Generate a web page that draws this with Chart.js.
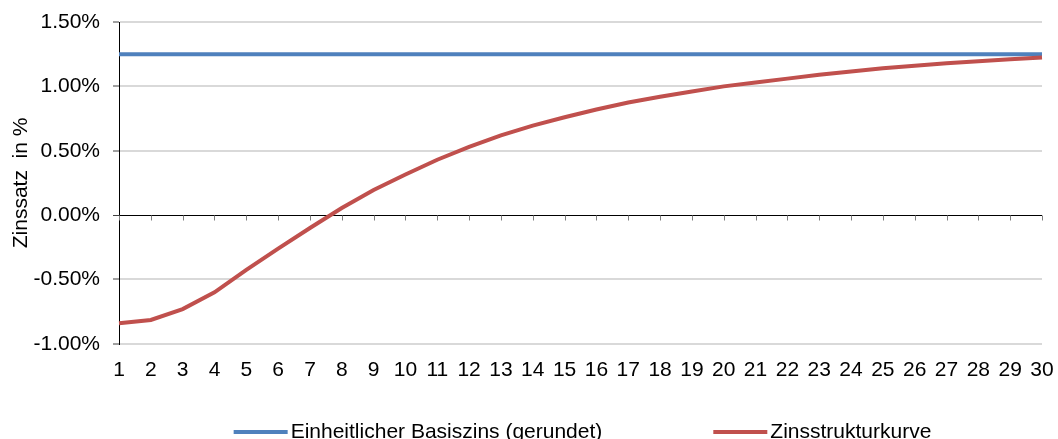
<!DOCTYPE html>
<html lang="de">
<head>
<meta charset="utf-8">
<title>Zinsstrukturkurve</title>
<script src="https://cdn.jsdelivr.net/npm/chart.js@4/dist/chart.umd.min.js"></script>
<style>
  html, body { margin: 0; padding: 0; background: #ffffff; }
  #wrap { width: 1058px; height: 439px; position: relative; }
</style>
</head>
<body>
<div id="wrap"><canvas id="chart"></canvas></div>
<script>
// Laufzeit in Jahren
const years = ['1','2','3','4','5','6','7','8','9','10','11','12','13','14','15',
               '16','17','18','19','20','21','22','23','24','25','26','27','28','29','30'];

// Einheitlicher Basiszins (gerundet), in %
const basisZins = [1.25,1.25,1.25,1.25,1.25,1.25,1.25,1.25,1.25,1.25,
                   1.25,1.25,1.25,1.25,1.25,1.25,1.25,1.25,1.25,1.25,
                   1.25,1.25,1.25,1.25,1.25,1.25,1.25,1.25,1.25,1.25];

// Zinsstrukturkurve, in %
const zinsStruktur = [-0.84,-0.815,-0.73,-0.60,-0.425,-0.26,-0.10,0.055,0.195,0.315,
                      0.43,0.53,0.62,0.695,0.76,0.82,0.875,0.92,0.96,1.00,
                      1.03,1.06,1.09,1.115,1.14,1.16,1.18,1.195,1.21,1.225];

// Werteachse
const yMin = -1.0;
const yMax = 1.5;
const yStep = 0.5;

const seriesNames = ['Einheitlicher Basiszins (gerundet)', 'Zinsstrukturkurve'];
const seriesColors = ['#4F81BD', '#C0504D'];

const FONT_FAMILY = '"Liberation Sans", Arial, Helvetica, sans-serif';
const FONT_SIZE = 21;

// Small tick marks hanging below the zero line, one per category
const zeroLineTicks = {
  id: 'zeroLineTicks',
  beforeDatasetsDraw(chart) {
    const { ctx, scales: { x, y } } = chart;
    const y0 = Math.round(y.getPixelForValue(0)) + 0.5;
    ctx.save();
    ctx.strokeStyle = '#7f7f7f';
    ctx.lineWidth = 1;
    ctx.beginPath();
    years.forEach((_, i) => {
      const px = Math.round(x.getPixelForValue(i)) + 0.5;
      ctx.moveTo(px, y0);
      ctx.lineTo(px, y0 + 5);
    });
    ctx.stroke();
    ctx.restore();
  }
};

// Legend row underneath the category labels
const bottomLegend = {
  id: 'bottomLegend',
  afterDraw(chart) {
    const { ctx, chartArea } = chart;
    const items = chart.data.datasets.map(ds => ({ text: ds.label, color: ds.borderColor, width: ds.borderWidth }));
    const sample = 54, gap = 3, spacing = 111;
    ctx.save();
    ctx.font = FONT_SIZE + 'px ' + FONT_FAMILY;
    ctx.textBaseline = 'middle';
    ctx.textAlign = 'left';
    const widths = items.map(it => sample + gap + ctx.measureText(it.text).width);
    const total = widths.reduce((a, b) => a + b, 0) + spacing * (items.length - 1);
    let x = (chartArea.left + chartArea.right) / 2 + 2 - total / 2;
    const yMid = chart.height - 7;
    items.forEach((it, i) => {
      ctx.strokeStyle = it.color;
      ctx.lineWidth = it.width;
      ctx.beginPath();
      ctx.moveTo(x, yMid);
      ctx.lineTo(x + sample, yMid);
      ctx.stroke();
      ctx.fillStyle = '#000000';
      ctx.fillText(it.text, x + sample + gap, yMid);
      x += widths[i] + spacing;
    });
    ctx.restore();
  }
};

new Chart(document.getElementById('chart'), {
  type: 'line',
  data: {
    labels: years,
    datasets: [
      {
        label: seriesNames[0],
        data: basisZins,
        borderColor: seriesColors[0],
        backgroundColor: seriesColors[0],
        borderWidth: 4,
        pointRadius: 0,
        tension: 0,
        order: 1
      },
      {
        label: seriesNames[1],
        data: zinsStruktur,
        borderColor: seriesColors[1],
        backgroundColor: seriesColors[1],
        borderWidth: 4,
        pointRadius: 0,
        tension: 0,
        order: 0
      }
    ]
  },
  options: {
    responsive: true,
    maintainAspectRatio: false,
    animation: false,
    layout: { padding: { left: 0, right: 16, top: 22, bottom: 42 } },
    plugins: {
      legend: { display: false },
      tooltip: { enabled: false }
    },
    scales: {
      x: {
        offset: false,
        afterFit(scale) { scale.paddingLeft = 0; scale.paddingRight = 0; },
        grid: { display: false, drawTicks: false },
        border: { display: false },
        ticks: {
          color: '#000000',
          font: { family: FONT_FAMILY, size: FONT_SIZE },
          maxRotation: 0,
          autoSkip: false,
          padding: 14
        }
      },
      y: {
        min: yMin,
        max: yMax,
        afterFit(scale) { scale.width = 119; scale.paddingTop = 0; scale.paddingBottom = 0; },
        ticks: {
          stepSize: yStep,
          color: '#000000',
          font: { family: FONT_FAMILY, size: FONT_SIZE },
          padding: 13,
          callback: v => v.toFixed(2) + '%'
        },
        grid: {
          color: ctx => (ctx.tick && ctx.tick.value === 0) ? '#000000' : '#d9d9d9',
          lineWidth: ctx => (ctx.tick && ctx.tick.value === 0) ? 1 : 2,
          tickColor: '#404040',
          tickWidth: 1,
          tickLength: 6
        },
        border: { display: true, color: '#000000', width: 1 },
        title: {
          display: true,
          text: 'Zinssatz  in %',
          color: '#000000',
          font: { family: FONT_FAMILY, size: FONT_SIZE },
          padding: { top: 9, bottom: 4 }
        }
      }
    }
  },
  plugins: [zeroLineTicks, bottomLegend]
});
</script>
</body>
</html>
